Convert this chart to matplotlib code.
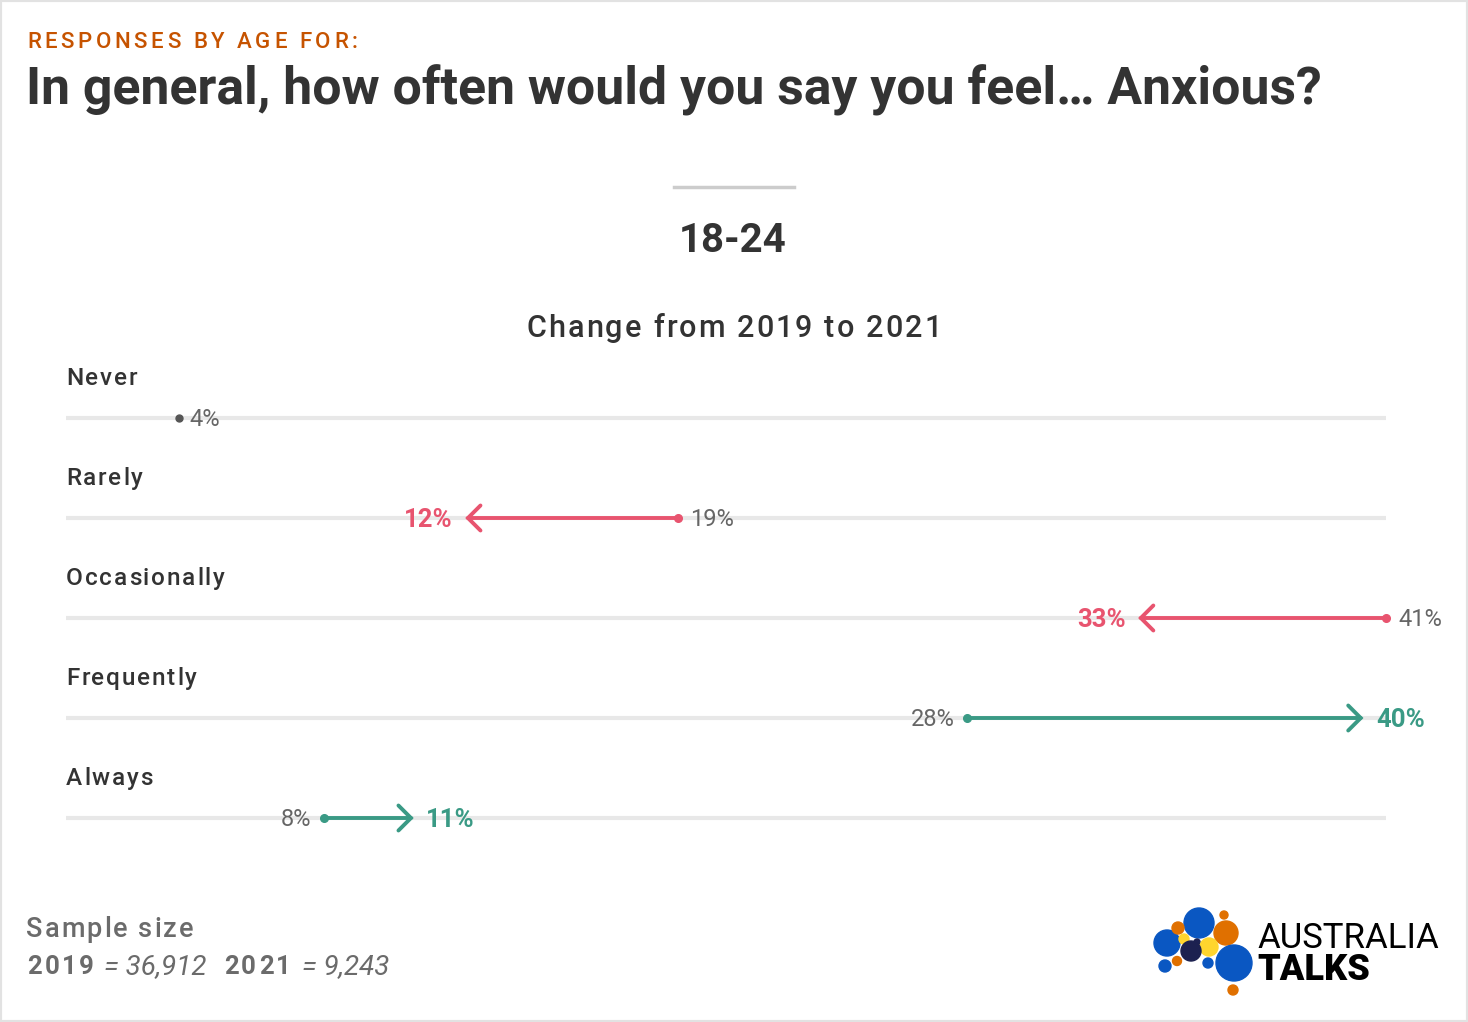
import matplotlib.pyplot as plt
from matplotlib.patches import Circle, Rectangle
from matplotlib.font_manager import FontProperties

# data
categories = ["Never", "Rarely", "Occasionally", "Frequently", "Always"]
pct_2019 = [3.5, 19.0, 41.0, 28.0, 8.0]
pct_2021 = [3.5, 12.4, 33.3, 40.3, 10.8]
labels_2019 = ["4%", "19%", "41%", "28%", "8%"]
labels_2021 = ["4%", "12%", "33%", "40%", "11%"]

W, H = 1468, 1022
RED = "#e8546f"
GREEN = "#3a9a85"
GREY = "#666666"
DARK = "#333333"
FONT = "Roboto"

plt.rcParams["font.family"] = [FONT, "DejaVu Sans"]

fig = plt.figure(figsize=(W / 100, H / 100), dpi=100)
fig.patch.set_facecolor("white")
renderer = fig.canvas.get_renderer()


def fx(x):
    return x / W


def fy(y):
    return 1 - y / H


def tracked(x, y, s, track=0, ha="left", size=16, weight="normal", style="normal",
            color=DARK):
    # letter-spaced text, x/y in pixels from top-left, y = baseline
    fp = FontProperties(family=FONT, size=size, weight=weight, style=style)

    def w(t):
        return renderer.get_text_width_height_descent(t, fp, ismath=False)[0]

    total = w(s) + track * (len(s) - 1)
    x0 = x - total / 2 if ha == "center" else x
    for k, ch in enumerate(s):
        if ch == " ":
            continue
        pos = w(s[:k + 1]) - w(ch) + track * k
        fig.text(fx(x0 + pos), fy(y), ch, fontproperties=fp, color=color, va="baseline")
    return x0 + total


# frame
fig.add_artist(Rectangle((0, 0), 1, 1, transform=fig.transFigure, fill=False,
                         edgecolor="#e2e2e2", lw=3))

# headings
tracked(27, 48, "RESPONSES BY AGE FOR:", track=3.6, size=16, weight="medium",
        color="#c65300")
fig.text(fx(26), fy(105), "In general, how often would you say you feel\u2026 Anxious?",
         color=DARK, fontsize=37.3, fontweight="bold", va="baseline")
fig.add_artist(plt.Line2D([fx(674), fx(794)], [fy(187), fy(187)], transform=fig.transFigure,
                          color="#cccccc", lw=2.5))
fig.text(fx(733), fy(252), "18-24", color=DARK, fontsize=29, fontweight="bold",
         ha="center", va="baseline")
tracked(734, 337, "Change from 2019 to 2021", track=2.1, ha="center", size=22,
        weight="medium")

# chart
ax = fig.add_axes([fx(66), fy(868), fx(1386 - 66), (868 - 368) / H])
ax.set_xlim(0, 41)
ax.set_ylim(4.5, -0.5)
ax.axis("off")

for i, cat in enumerate(categories):
    ax.axhline(i, color="#e8e8e8", lw=3, zorder=1)
    tracked(66, 385 + 100 * i, cat, track=1.8, size=17.5, weight="medium")
    a, b = pct_2019[i], pct_2021[i]
    if a == b:
        ax.plot(a, i, "o", color="#555555", ms=5, zorder=3, clip_on=False)
        ax.annotate(labels_2019[i], (a, i), xytext=(8, 0.5), textcoords="offset points",
                    color=GREY, fontsize=17, va="center_baseline", ha="left")
        continue
    c = GREEN if b > a else RED
    ax.annotate("", xy=(b, i), xytext=(a, i),
                arrowprops=dict(arrowstyle="->,head_length=0.45,head_width=0.45",
                                mutation_scale=20, lw=2.8, color=c,
                                shrinkA=0, shrinkB=0, joinstyle="miter"),
                zorder=2, annotation_clip=False)
    ax.plot(a, i, "o", color=c, ms=5.5, zorder=3, clip_on=False)
    side = -1 if b > a else 1
    ax.annotate(labels_2019[i], (a, i), xytext=(side * 9, 0.5), textcoords="offset points",
                color=GREY, fontsize=17, va="center_baseline",
                ha="right" if side < 0 else "left", annotation_clip=False)
    ax.annotate(labels_2021[i], (b, i), xytext=(-side * 9, 0.5), textcoords="offset points",
                color=c, fontsize=18.5, fontweight="bold", va="center_baseline",
                ha="left" if side < 0 else "right", annotation_clip=False)

# footer
FG = "#6b6b6b"
tracked(26, 937, "Sample size", track=2.0, size=19.5, weight="medium", color=FG)
tracked(27, 974, "2019", track=2.5, size=18.5, weight="bold", color=FG)
fig.text(fx(104), fy(974), "= 36,912", color=FG, fontsize=20, style="italic", va="baseline")
tracked(224, 974, "2021", track=2.5, size=18.5, weight="bold", color=FG)
fig.text(fx(302), fy(974), "= 9,243", color=FG, fontsize=20, style="italic", va="baseline")

# logo
BLUE, ORANGE, YELLOW, NAVY = "#0a57c2", "#e07000", "#ffd52e", "#1c2150"
dots = [(1199, 923, 15, BLUE), (1224, 915, 4, ORANGE), (1226, 933, 12, ORANGE),
        (1167, 943, 13, BLUE), (1178, 928, 6, ORANGE), (1184, 939, 5, YELLOW),
        (1197, 942, 3, NAVY), (1209, 947, 9, YELLOW), (1191, 951, 10, NAVY),
        (1234, 963, 18, BLUE), (1165, 966, 6, BLUE), (1177, 961, 4.5, ORANGE),
        (1208, 963, 5, BLUE), (1233, 990, 5, ORANGE)]
for x, y, r, col in dots:
    fig.add_artist(Circle((x, H - y), r, transform=None, color=col))
fig.text(fx(1257), fy(948), "AUSTRALIA", color="black", fontsize=25, fontweight="normal",
         va="baseline")
fig.text(fx(1257), fy(980), "TALKS", color="black", fontsize=26, fontweight="heavy",
         va="baseline")

fig.savefig("out.png", dpi=100, facecolor="white")
